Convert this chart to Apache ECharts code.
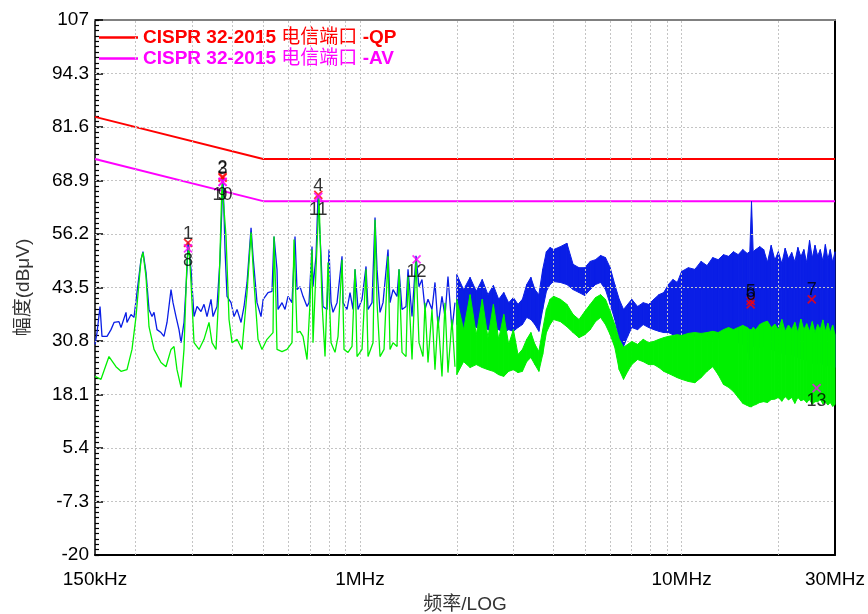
<!DOCTYPE html>
<html>
<head>
<meta charset="utf-8">
<script src="https://cdn.jsdelivr.net/npm/echarts@6.0.0/dist/echarts.min.js"></script>
<style>
    html, body { margin: 0; padding: 0; background: #fff; }
    #chart { width: 868px; height: 614px; }
</style>
</head>
<body>
<div id="chart"></div>
<script>
    // frequencies in MHz, levels in dBuV

    // QP / AV limit lines (CISPR 32 telecom port)
    var qpName = 'CISPR 32-2015 电信端口 -QP';
    var avName = 'CISPR 32-2015 电信端口 -AV';
    var limitFreq = [0.15, 0.5, 30];
    var qpLimit = [84, 74, 74];
    var avLimit = [74, 64, 64];

    // blue trace (peak) below 2 MHz
    var blueFreq = [0.150,0.1522,0.1555,0.1577,0.1635,0.1682,0.1719,0.1781,0.1807,0.1873,0.1886,0.1941,0.1983,0.2026,0.2085,0.2115,0.2161,0.2208,0.2256,0.2289,
        0.2338,0.2406,0.2458,0.2512,0.2585,0.2622,0.2679,0.2737,0.2777,0.2837,0.2899,0.2919,0.2983,0.3048,0.3114,0.3204,0.3274,0.3345,0.3442,0.3492,
        0.3593,0.3671,0.3751,0.3805,0.3860,0.3973,0.4059,0.4147,0.4268,0.4361,0.4455,0.4585,0.4650,0.4785,0.4924,0.5000,0.5177,0.5327,0.5404,0.5521,
        0.5561,0.5723,0.5847,0.5974,0.6147,0.6281,0.6372,0.6510,0.6651,0.6845,0.6943,0.7094,0.7145,0.7300,0.7406,0.7567,0.7676,0.7899,0.8013,0.8129,
        0.8246,0.8486,0.8795,0.8858,0.9115,0.9313,0.9515,0.9653,0.9862,1.0149,1.0444,1.0594,1.0902,1.1139,1.1300,1.1545,1.1795,1.2225,1.2402,1.2671,
        1.3039,1.3227,1.3514,1.3907,1.4107,1.4517,1.4936,1.5260,1.5591,1.5930,1.6276,1.6749,1.7112,1.7484,1.7991,1.8381,1.8780,1.9326,1.9746];
    var blueLevel = [30.0,32.8,39.0,31.9,31.9,33.5,35.2,35.4,34.0,37.6,35.2,37.1,36.4,42.3,50.1,52.0,47.1,38.3,36.6,37.6,
        33.5,32.8,31.9,35.2,43.0,39.9,36.6,33.5,30.4,35.2,47.8,54.4,47.8,36.6,39.0,37.8,39.5,36.6,40.7,36.6,
        39.0,50.1,69.5,52.5,41.4,39.9,36.6,38.3,35.2,39.0,44.7,57.7,50.9,39.9,36.6,40.7,42.3,42.6,55.6,47.8,
        38.3,39.9,38.3,41.4,39.9,55.6,43.0,43.7,41.4,39.0,39.9,53.2,43.7,50.9,65.3,50.9,39.0,38.3,52.5,39.9,
        37.6,39.9,50.9,39.9,38.3,42.3,38.3,47.8,38.3,40.7,48.5,38.3,39.9,60.1,47.8,37.6,39.9,52.5,39.9,43.0,
        41.4,47.8,38.3,39.0,47.8,36.6,51.0,43.7,45.4,38.3,40.7,38.3,44.7,34.2,41.4,36.6,46.1,33.5,39.9];

    // green trace (average) below 2 MHz
    var greenFreq = [0.150,0.1566,0.1658,0.1743,0.1807,0.1886,0.1955,0.2012,0.2085,0.2115,0.2161,0.2208,0.2289,0.2406,0.2494,0.2585,0.2641,0.2698,0.2777,0.2837,
        0.2899,0.2940,0.2983,0.3048,0.3159,0.3274,0.3393,0.3467,0.3568,0.3645,0.3724,0.3833,0.3916,0.4001,0.4147,0.4298,0.4455,0.4585,0.4683,0.4819,
        0.4959,0.5140,0.5366,0.5404,0.5482,0.5521,0.5723,0.5931,0.6147,0.6236,0.6372,0.6510,0.6651,0.6845,0.6993,0.7094,0.7145,0.7300,0.7459,0.7621,
        0.7787,0.7956,0.8129,0.8365,0.8547,0.8795,0.8921,0.9181,0.9447,0.9653,0.9792,1.0149,1.0444,1.0594,1.0980,1.1139,1.1300,1.1545,1.1880,1.2225,
        1.2402,1.2671,1.3039,1.3227,1.3514,1.3907,1.4107,1.4517,1.4936,1.5260,1.5703,1.5930,1.6276,1.6749,1.7112,1.7484,1.7991,1.8381,1.8780,1.9326,1.9746];
    var greenLevel = [22.4,21.7,27.1,24.7,23.6,24.0,28.8,36.6,50.1,51.8,46.1,34.2,28.8,25.7,24.7,28.8,29.5,24.0,19.8,28.8,
        50.1,53.2,44.7,30.4,28.8,31.2,35.2,30.4,28.8,43.0,68.4,55.6,35.9,30.4,31.2,28.8,42.3,56.6,44.7,31.2,
        28.8,31.2,32.8,55.6,39.9,28.8,28.3,28.8,30.4,54.9,32.8,33.1,31.9,26.4,39.9,52.5,30.4,47.8,64.9,39.9,
        27.1,49.4,30.4,28.1,31.9,50.1,28.8,28.1,29.5,47.8,27.1,28.8,47.8,27.1,30.4,59.6,39.9,27.1,28.8,50.9,
        28.8,30.4,29.5,47.8,28.1,27.1,46.1,26.4,50.1,30.4,27.1,39.9,25.7,38.3,24.0,36.6,22.4,39.9,23.3,35.9,24.7];

    // dense part above 2 MHz, read as upper / lower edge of each trace
    var bandFreq = [2.0,2.1,2.2,2.3,2.4,2.5,2.6,2.7,2.8,2.9,3.0,3.1,3.2,3.3,3.4,3.5,3.6,3.7,3.8,3.9,
        4.0,4.2,4.4,4.6,4.8,5.0,5.2,5.4,5.6,5.8,6.0,6.2,6.4,6.6,6.8,7.0,7.3,7.6,7.9,8.2,
        8.5,8.8,9.1,9.4,9.7,10,10.5,11,11.5,12,12.5,13,13.5,14,14.5,15,15.5,16,16.3,16.5,
        16.7,17,17.5,18,18.5,19,19.5,20,20.5,21,21.5,22,22.5,23,23.5,24,24.5,25,25.5,26,
        26.5,27,27.5,28,28.5,29,29.5,30];
    var blueHi = [46.6,43.0,45.9,42.6,45.4,41.8,44.0,40.7,42.3,39.9,41.1,39.5,40.7,44.2,45.9,43.0,41.8,47.8,52.0,53.0,
        52.5,53.2,54.0,49.0,48.2,48.2,49.7,50.1,51.1,50.6,48.2,44.2,40.7,38.3,39.5,40.7,39.0,39.9,39.5,40.7,
        41.8,42.3,44.2,45.4,44.7,47.3,48.2,47.8,49.7,48.7,50.6,50.1,51.3,50.9,52.0,51.3,52.5,51.6,52.0,63.9,
        52.0,52.5,53.2,52.5,49.5,53.5,50.0,52.0,49.2,52.8,50.3,51.8,49.6,53.0,50.8,52.5,49.4,54.7,50.5,53.5,
        51.0,52.5,49.8,53.7,50.2,52.5,49.5,52.0];
    var blueLo = [34.7,33.5,35.4,34.0,34.7,33.5,33.1,33.5,32.8,33.5,33.1,34.0,34.7,36.4,35.9,34.7,33.1,38.3,42.6,44.2,
        44.9,44.7,44.2,43.0,42.3,41.6,43.0,44.2,44.7,43.0,39.5,35.9,31.2,29.5,31.9,34.0,33.5,34.7,34.0,33.5,
        33.1,32.8,32.8,32.3,32.3,31.9,31.9,31.9,32.1,31.9,31.6,31.6,31.2,31.2,30.7,30.4,30.0,28.8,26.4,30.0,
        29.5,29.7,29.3,29.5,29.0,28.8,28.5,28.3,27.9,27.6,27.6,27.6,27.2,26.9,26.6,26.4,26.1,25.9,25.5,25.2,
        25.4,25.7,25.2,24.7,25.0,25.2,24.8,24.5];
    var greenHi = [40.7,33.5,41.8,32.3,40.7,31.6,39.5,31.2,37.1,30.0,33.5,27.6,28.8,31.2,32.8,30.0,28.3,33.5,38.3,40.7,
        41.4,40.7,39.5,37.1,35.9,37.8,39.5,41.1,41.8,40.7,37.8,34.7,31.2,29.3,30.0,30.7,30.0,31.2,30.4,30.7,
        31.2,31.6,31.9,32.1,32.3,32.1,32.6,32.8,32.6,32.8,33.1,32.8,33.5,34.0,33.5,34.0,34.5,34.0,33.5,33.5,
        34.0,33.5,34.7,35.2,35.5,34.0,34.8,33.5,35.9,33.1,34.6,33.5,35.2,32.8,36.0,33.5,34.9,33.1,35.4,32.8,
        34.7,33.5,35.8,33.1,35.0,32.8,34.6,32.3];
    var greenLo = [22.8,25.9,24.5,25.2,24.5,24.0,23.6,22.8,22.4,23.6,24.0,23.3,23.6,25.9,26.9,25.2,23.6,27.6,32.8,34.7,
        35.9,35.4,34.2,32.8,31.6,32.3,33.5,35.4,36.4,34.7,32.3,29.3,24.0,21.7,23.6,25.2,26.4,25.9,25.2,25.2,
        24.5,23.6,23.1,22.6,22.1,21.7,21.2,20.9,22.1,23.6,24.7,22.8,20.5,19.8,18.8,17.4,16.0,15.5,15.2,15.2,
        15.5,15.7,16.2,16.4,16.2,16.9,17.0,17.4,16.5,17.6,16.8,17.4,16.0,17.4,16.6,16.9,16.2,16.9,15.8,16.4,
        16.4,16.9,15.9,16.4,15.6,16.2,15.3,15.7];

    // markers
    var qpMarkerNames = ['1', '2', '3', '4', '5', '6', '7'];
    var qpMarkerFreq = [0.292, 0.374, 0.374, 0.742, 16.4, 16.4, 25.4];
    var qpMarkerLevel = [54.1, 69.8, 69.5, 65.5, 40.3, 39.5, 40.7];
    var avMarkerNames = ['8', '9', '10', '11', '12', '13'];
    var avMarkerFreq = [0.292, 0.374, 0.374, 0.742, 1.50, 26.3];
    var avMarkerLevel = [52.8, 68.6, 68.6, 65.0, 50.2, 19.6];

    // axes
    var yTickValues = [-20, -7.3, 5.4, 18.1, 30.8, 43.5, 56.2, 68.9, 81.6, 94.3, 107];
    var xGridValues = [0.2, 0.3, 0.4, 0.5, 0.6, 0.7, 0.8, 0.9, 1, 2, 3, 4, 5, 6, 7, 8, 9, 10, 20];
    var xLabelValues = [0.15, 1, 10, 30];
    var xLabelText = ['150kHz', '1MHz', '10MHz', '30MHz'];

    var FONT = "'Liberation Sans', 'Noto Sans CJK SC', sans-serif";
    var BLUE = '#0a1ee6';
    var GREEN = '#00f000';
    var GRID = '#c4c4c4';

    var yMinorTicks = [];
    for (var i = 0; i <= 100; i++) {
        yMinorTicks.push(-20 + i * 1.27);
    }

    function zip(xs, ys) {
        return xs.map(function (x, i) { return [x, ys[i]]; });
    }

    function markerData(names, freqs, levels) {
        return names.map(function (n, i) { return { name: n, value: [freqs[i], levels[i]] }; });
    }

    // one polygon per step between lower and upper edge
    function bandItems(lo, hi) {
        var out = [];
        for (var i = 0; i < bandFreq.length - 1; i++) {
            out.push([bandFreq[i], lo[i], hi[i], bandFreq[i + 1], lo[i + 1], hi[i + 1]]);
        }
        return out;
    }

    function bandRender(color) {
        return function (params, api) {
            var a = api.coord([api.value(0), api.value(1)]);
            var b = api.coord([api.value(0), api.value(2)]);
            var c = api.coord([api.value(3), api.value(5)]);
            var d = api.coord([api.value(3), api.value(4)]);
            return {
                type: 'polygon',
                shape: { points: [a, b, c, d] },
                style: { fill: color, stroke: color, lineWidth: 1 }
            };
        };
    }

    // dotted grid drawn as mark lines
    var gridLines = xGridValues.map(function (v) { return { xAxis: v }; })
        .concat(yTickValues.slice(1, -1).map(function (v) { return { yAxis: v }; }));

    var xMark = 'path://M0,0L10,10M10,0L0,10';

    var myChart = echarts.init(document.getElementById('chart'));
    myChart.setOption({
        animation: false,
        backgroundColor: '#fff',
        textStyle: { fontFamily: FONT },
        grid: { left: 95, right: 33, top: 20, bottom: 59, containLabel: false, outerBoundsMode: 'none' },
        legend: {
            orient: 'vertical',
            left: 99,
            top: 28,
            padding: 0,
            itemGap: 2,
            itemWidth: 39,
            itemHeight: 2.5,
            icon: 'rect',
            selectedMode: false,
            formatter: function (name) {
                return name.replace('电信端口', '{n|电信端口}');
            },
            textStyle: {
                fontSize: 19,
                fontWeight: 'bold',
                fontFamily: FONT,
                rich: { n: { fontSize: 19, fontWeight: 'normal', fontFamily: FONT } }
            },
            data: [
                { name: qpName, textStyle: { color: '#ff0000' } },
                { name: avName, textStyle: { color: '#ff00ff' } }
            ]
        },
        xAxis: [
            {
                type: 'log',
                min: 0.15,
                max: 30,
                position: 'bottom',
                name: '频率/LOG',
                nameLocation: 'middle',
                nameGap: 40,
                nameTextStyle: { fontSize: 19, color: '#333', fontFamily: FONT },
                axisLine: { show: true, onZero: false, lineStyle: { color: '#000', width: 2 } },
                axisTick: { show: false },
                axisLabel: {
                    customValues: xLabelValues,
                    fontSize: 19,
                    color: '#000',
                    margin: 15,
                    formatter: function (v) {
                        var best = 0;
                        xLabelValues.forEach(function (t, i) {
                            if (Math.abs(Math.log(t / v)) < Math.abs(Math.log(xLabelValues[best] / v))) best = i;
                        });
                        return xLabelText[best];
                    }
                },
                splitLine: { show: false },
                minorSplitLine: { show: false }
            },
            {
                type: 'log',
                min: 0.15,
                max: 30,
                position: 'top',
                axisLine: { show: true, onZero: false, lineStyle: { color: '#808080', width: 2 } },
                axisTick: { show: false },
                axisLabel: { show: false },
                splitLine: { show: false },
                minorSplitLine: { show: false }
            }
        ],
        yAxis: [
            {
                type: 'value',
                min: -20,
                max: 107,
                position: 'left',
                name: '幅度(dBμV)',
                nameLocation: 'middle',
                nameGap: 62,
                nameTextStyle: { fontSize: 19, color: '#333', fontFamily: FONT },
                axisLine: { show: true, onZero: false, lineStyle: { color: '#000', width: 1.5 } },
                axisTick: { show: true, inside: true, length: 8, customValues: yTickValues, lineStyle: { color: '#000', width: 1.5 } },
                axisLabel: {
                    customValues: yTickValues,
                    fontSize: 19,
                    color: '#000',
                    margin: 6,
                    formatter: function (v) { return String(Math.round(v * 10) / 10); }
                },
                splitLine: { show: false },
                minorSplitLine: { show: false }
            },
            {
                type: 'value',
                min: -20,
                max: 107,
                position: 'left',
                axisLine: { show: false, onZero: false },
                axisTick: { show: true, inside: true, length: 4, customValues: yMinorTicks, lineStyle: { color: '#000', width: 1.2 } },
                axisLabel: { show: false },
                splitLine: { show: false },
                minorSplitLine: { show: false }
            },
            {
                type: 'value',
                min: -20,
                max: 107,
                position: 'right',
                axisLine: { show: true, onZero: false, lineStyle: { color: '#000', width: 2 } },
                axisTick: { show: false },
                axisLabel: { show: false },
                splitLine: { show: false },
                minorSplitLine: { show: false }
            }
        ],
        series: [
            {
                name: 'grid',
                type: 'line',
                data: [],
                silent: true,
                z: 1,
                markLine: {
                    silent: true,
                    symbol: 'none',
                    animation: false,
                    label: { show: false },
                    lineStyle: { color: GRID, type: [2, 2], width: 1 },
                    data: gridLines
                }
            },
            {
                name: qpName,
                type: 'line',
                data: zip(limitFreq, qpLimit),
                symbol: 'none',
                lineStyle: { color: '#ff0000', width: 2 },
                itemStyle: { color: '#ff0000' },
                z: 3
            },
            {
                name: avName,
                type: 'line',
                data: zip(limitFreq, avLimit),
                symbol: 'none',
                lineStyle: { color: '#ff00ff', width: 2 },
                itemStyle: { color: '#ff00ff' },
                z: 3
            },
            {
                name: 'peak',
                type: 'line',
                data: zip(blueFreq, blueLevel),
                symbol: 'none',
                lineStyle: { color: BLUE, width: 1.3 },
                z: 4
            },
            {
                name: 'peakBand',
                type: 'custom',
                renderItem: bandRender(BLUE),
                data: bandItems(blueLo, blueHi),
                encode: { x: [0, 3], y: [1, 2, 4, 5] },
                silent: true,
                z: 4
            },
            {
                name: 'average',
                type: 'line',
                data: zip(greenFreq, greenLevel),
                symbol: 'none',
                lineStyle: { color: GREEN, width: 1.3 },
                z: 5
            },
            {
                name: 'averageBand',
                type: 'custom',
                renderItem: bandRender(GREEN),
                data: bandItems(greenLo, greenHi),
                encode: { x: [0, 3], y: [1, 2, 4, 5] },
                silent: true,
                z: 5
            },
            {
                name: 'qpMarkers',
                type: 'scatter',
                data: markerData(qpMarkerNames, qpMarkerFreq, qpMarkerLevel),
                symbol: xMark,
                symbolSize: 8,
                itemStyle: { color: '#ff0000', borderColor: '#ff0000', borderWidth: 1.8 },
                label: { show: true, position: 'top', distance: -5, formatter: '{b}', fontSize: 18, color: '#000', fontFamily: FONT },
                z: 6
            },
            {
                name: 'avMarkers',
                type: 'scatter',
                data: markerData(avMarkerNames, avMarkerFreq, avMarkerLevel),
                symbol: xMark,
                symbolSize: 8,
                itemStyle: { color: '#ff00ff', borderColor: '#ff00ff', borderWidth: 1.8 },
                label: { show: true, position: 'bottom', distance: -1, formatter: '{b}', fontSize: 18, color: '#000', fontFamily: FONT },
                z: 6
            }
        ]
    });
</script>
</body>
</html>
